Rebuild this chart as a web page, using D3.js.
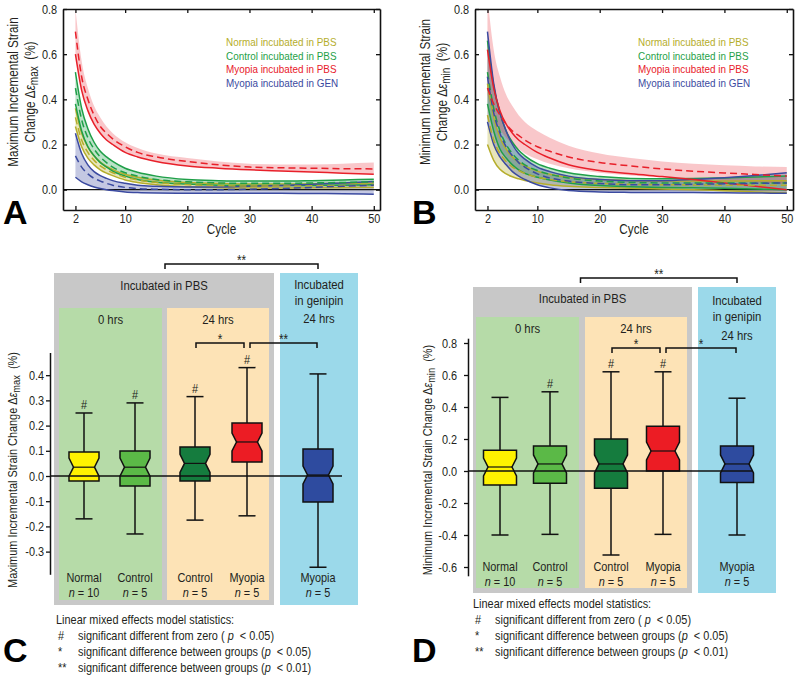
<!DOCTYPE html>
<html>
<head>
<meta charset="utf-8">
<script src="https://cdn.jsdelivr.net/npm/d3@7"></script>
<style>
  body { margin: 0; background: #fff; }
  svg { display: block; }
  text { font-family: "Liberation Sans", Arial, sans-serif; }
</style>
</head>
<body>
<div id="root"></div>
<script>
// ---------- data: strain change vs cycle (panels A and B) ----------
const cycles = [2, 3, 4, 5, 6, 7, 8, 10, 12, 15, 20, 25, 30, 35, 40, 45, 50];
const cycleTicks = [2, 10, 20, 30, 40, 50];
const strainTicks = [0, 0.2, 0.4, 0.6, 0.8];
const seriesNames = ['Normal incubated in PBS', 'Control incubated in PBS', 'Myopia incubated in PBS', 'Myopia incubated in GEN'];

// A: maximum incremental strain change
const aNormalMean = [0.32, 0.22, 0.165, 0.13, 0.105, 0.088, 0.075, 0.055, 0.043, 0.032, 0.022, 0.018, 0.016, 0.016, 0.017, 0.018, 0.02];
const aNormalHi = [0.36, 0.25, 0.19, 0.15, 0.122, 0.103, 0.089, 0.068, 0.055, 0.043, 0.032, 0.027, 0.025, 0.025, 0.026, 0.028, 0.03];
const aNormalLo = [0.28, 0.19, 0.14, 0.11, 0.088, 0.073, 0.062, 0.043, 0.032, 0.022, 0.013, 0.009, 0.007, 0.007, 0.008, 0.009, 0.01];
const aControlMean = [0.45, 0.31, 0.23, 0.18, 0.145, 0.12, 0.10, 0.075, 0.06, 0.045, 0.035, 0.03, 0.028, 0.028, 0.03, 0.032, 0.035];
const aControlHi = [0.52, 0.36, 0.27, 0.21, 0.17, 0.145, 0.125, 0.095, 0.077, 0.06, 0.045, 0.04, 0.038, 0.038, 0.04, 0.043, 0.046];
const aControlLo = [0.38, 0.26, 0.19, 0.15, 0.12, 0.10, 0.082, 0.06, 0.045, 0.033, 0.025, 0.02, 0.018, 0.018, 0.019, 0.02, 0.022];
const aMyopiaMean = [0.70, 0.50, 0.40, 0.33, 0.28, 0.25, 0.225, 0.19, 0.165, 0.145, 0.125, 0.11, 0.10, 0.097, 0.095, 0.093, 0.092];
const aMyopiaHi = [0.80, 0.57, 0.45, 0.37, 0.32, 0.28, 0.25, 0.21, 0.185, 0.16, 0.14, 0.125, 0.115, 0.112, 0.112, 0.115, 0.12];
const aMyopiaLo = [0.60, 0.44, 0.35, 0.29, 0.25, 0.22, 0.20, 0.165, 0.145, 0.125, 0.105, 0.095, 0.088, 0.083, 0.078, 0.073, 0.068];
const aGenMean = [0.15, 0.10, 0.07, 0.05, 0.038, 0.028, 0.02, 0.01, 0.005, 0.002, 0.0, 0.0, 0.002, 0.005, 0.01, 0.015, 0.02];
const aGenHi = [0.25, 0.16, 0.11, 0.08, 0.062, 0.05, 0.04, 0.028, 0.02, 0.015, 0.012, 0.012, 0.015, 0.018, 0.024, 0.03, 0.036];
const aGenLo = [0.055, 0.035, 0.022, 0.012, 0.005, 0.0, -0.004, -0.01, -0.013, -0.015, -0.016, -0.016, -0.016, -0.016, -0.017, -0.018, -0.02];

// B: minimum incremental strain change
const bNormalMean = [0.33, 0.22, 0.16, 0.125, 0.10, 0.085, 0.072, 0.055, 0.045, 0.035, 0.028, 0.024, 0.022, 0.021, 0.02, 0.02, 0.02];
const bNormalHi = [0.47, 0.32, 0.23, 0.18, 0.145, 0.122, 0.105, 0.082, 0.068, 0.055, 0.045, 0.04, 0.038, 0.038, 0.038, 0.039, 0.04];
const bNormalLo = [0.20, 0.13, 0.09, 0.07, 0.057, 0.048, 0.04, 0.03, 0.022, 0.015, 0.01, 0.006, 0.003, 0.0, -0.005, -0.01, -0.015];
const bControlMean = [0.52, 0.36, 0.26, 0.20, 0.16, 0.13, 0.11, 0.085, 0.068, 0.052, 0.038, 0.032, 0.03, 0.03, 0.03, 0.03, 0.03];
const bControlHi = [0.66, 0.46, 0.34, 0.26, 0.21, 0.175, 0.15, 0.115, 0.095, 0.075, 0.058, 0.05, 0.048, 0.049, 0.052, 0.056, 0.06];
const bControlLo = [0.38, 0.26, 0.18, 0.14, 0.11, 0.088, 0.072, 0.055, 0.043, 0.03, 0.018, 0.013, 0.01, 0.008, 0.006, 0.003, 0.0];
const bMyopiaMean = [0.45, 0.38, 0.33, 0.29, 0.26, 0.24, 0.22, 0.19, 0.17, 0.145, 0.12, 0.105, 0.092, 0.082, 0.074, 0.067, 0.06];
const bMyopiaHi = [0.85, 0.62, 0.50, 0.42, 0.37, 0.33, 0.30, 0.26, 0.23, 0.195, 0.16, 0.14, 0.125, 0.115, 0.108, 0.103, 0.10];
const bMyopiaLo = [0.42, 0.33, 0.27, 0.23, 0.20, 0.18, 0.16, 0.135, 0.115, 0.095, 0.075, 0.063, 0.055, 0.047, 0.04, 0.033, 0.025];
const bMyopiaSolid = [0.62, 0.45, 0.35, 0.29, 0.25, 0.22, 0.20, 0.165, 0.14, 0.11, 0.085, 0.07, 0.058, 0.045, 0.03, 0.015, 0.0];
const bGenMean = [0.50, 0.34, 0.25, 0.19, 0.15, 0.12, 0.10, 0.07, 0.052, 0.038, 0.027, 0.022, 0.022, 0.024, 0.026, 0.028, 0.03];
const bGenHi = [0.70, 0.47, 0.34, 0.26, 0.20, 0.16, 0.135, 0.10, 0.08, 0.06, 0.045, 0.04, 0.04, 0.045, 0.053, 0.063, 0.075];
const bGenLo = [0.30, 0.20, 0.145, 0.11, 0.08, 0.06, 0.045, 0.022, 0.008, -0.004, -0.01, -0.012, -0.013, -0.013, -0.014, -0.015, -0.016];

// ---------- data: box plots (panels C and D) ----------
const boxGroups = ['Normal', 'Control', 'Control', 'Myopia', 'Myopia'];
const boxN = [10, 5, 5, 5, 5];
const cTicks = [-0.3, -0.2, -0.1, 0, 0.1, 0.2, 0.3, 0.4];
const cWhiskerHi = [0.25, 0.29, 0.315, 0.43, 0.405];
const cQ3 = [0.095, 0.099, 0.115, 0.21, 0.107];
const cMedian = [0.035, 0.035, 0.05, 0.135, 0.004];
const cQ1 = [-0.02, -0.04, -0.02, 0.056, -0.103];
const cWhiskerLo = [-0.17, -0.23, -0.175, -0.158, -0.362];
const cHash = [true, true, true, true, false];
const dTicks = [-0.6, -0.4, -0.2, 0, 0.2, 0.4, 0.6, 0.8];
const dWhiskerHi = [0.46, 0.495, 0.62, 0.62, 0.455];
const dQ3 = [0.13, 0.156, 0.20, 0.28, 0.156];
const dMedian = [0.025, 0.044, 0.044, 0.125, 0.044];
const dQ1 = [-0.088, -0.077, -0.108, 0.0, -0.072];
const dWhiskerLo = [-0.40, -0.396, -0.525, -0.396, -0.40];
const dHash = [false, true, true, true, false];
const cPairs = [[2, 3, '*'], [3, 4, '**']];
const dPairs = [[2, 3, '*'], [3, 4, '*']];
const legendLines = [
  ['#', 'significant different from zero ( ', ' < 0.05)'],
  ['*', 'significant difference between groups (', ' < 0.05)'],
  ['**', 'significant difference between groups (', ' < 0.01)']
];

// ---------- styles ----------
const lineColors = ['#b5ad2b', '#1f9f48', '#e8202a', '#3b4aa0'];
const bandOpacity = [0.32, 0.3, 0.25, 0.3];
const boxColors = ['#fff200', '#5bb947', '#157c3e', '#ec1c24', '#2e4b9f'];
const SX = 0.84;

const svg = d3.select('#root').append('svg')
  .attr('width', 798)
  .attr('height', 680);

function txt(parent, x, y, size, anchor, opts = {}) {
  const t = parent.append('text')
    .attr('transform', `translate(${x},${y})${opts.rotate ? ' rotate(-90)' : ''} scale(${opts.sx || SX},1)`)
    .attr('font-size', size)
    .attr('text-anchor', anchor)
    .attr('fill', opts.fill || '#231f20');
  if (opts.weight) t.attr('font-weight', opts.weight);
  return t;
}

function subTitle(t, pre, sub, post) {
  t.append('tspan').text(pre);
  t.append('tspan').attr('font-style', 'italic').text('ε');
  t.append('tspan').attr('font-size', '0.85em').attr('dy', 3).text(sub);
  t.append('tspan').attr('dy', -3).text(post);
}

// ---------- line panels ----------
function linePanel(p) {
  const x = d3.scaleLinear().domain([0, 51]).range([p.left, p.right]);
  const y = d3.scaleLinear().domain([-0.09, 0.8]).range([210, 9]);
  const g = svg.append('g');

  g.append('clipPath').attr('id', p.id)
    .append('rect')
    .attr('x', p.left).attr('y', 9)
    .attr('width', p.right - p.left).attr('height', 201);
  const plot = g.append('g').attr('clip-path', `url(#${p.id})`);

  const line = d3.line()
    .x((d, i) => x(cycles[i]))
    .y(d => y(d))
    .curve(d3.curveMonotoneX);
  const area = d3.area()
    .x((d, i) => x(cycles[i]))
    .y0(d => y(d[0]))
    .y1(d => y(d[1]))
    .curve(d3.curveMonotoneX);

  // draw order: normal, control, genipin, myopia PBS
  const order = [0, 1, 3, 2];
  order.forEach(k => {
    const s = p.series[k];
    plot.append('path')
      .datum(s.lo.map((v, i) => [v, s.hi[i]]))
      .attr('d', area)
      .attr('fill', lineColors[k])
      .attr('fill-opacity', bandOpacity[k]);
  });

  plot.append('line')
    .attr('x1', p.left).attr('x2', p.right)
    .attr('y1', y(0)).attr('y2', y(0))
    .attr('stroke', '#111').attr('stroke-width', 1.3);

  order.forEach(k => {
    const s = p.series[k];
    s.solid.forEach(arr => {
      plot.append('path').datum(arr)
        .attr('d', line)
        .attr('fill', 'none')
        .attr('stroke', lineColors[k])
        .attr('stroke-width', 1.5);
    });
  });
  order.forEach(k => {
    plot.append('path').datum(p.series[k].mean)
      .attr('d', line)
      .attr('fill', 'none')
      .attr('stroke', lineColors[k])
      .attr('stroke-width', 1.5)
      .attr('stroke-dasharray', '7,4');
  });

  // frame with inward ticks on all sides
  const fmt = d => d.toFixed(1);
  const axes = [
    g.append('g').attr('transform', 'translate(0,210)')
      .call(d3.axisBottom(x).tickValues(cycleTicks).tickSize(-4).tickSizeOuter(0).tickPadding(4)),
    g.append('g').attr('transform', 'translate(0,9)')
      .call(d3.axisTop(x).tickValues(cycleTicks).tickSize(-4).tickSizeOuter(0).tickFormat('')),
    g.append('g').attr('transform', `translate(${p.left},0)`)
      .call(d3.axisLeft(y).tickValues(strainTicks).tickSize(-4).tickSizeOuter(0).tickPadding(7).tickFormat(fmt)),
    g.append('g').attr('transform', `translate(${p.right},0)`)
      .call(d3.axisRight(y).tickValues(strainTicks).tickSize(-4).tickSizeOuter(0).tickFormat(''))
  ];
  axes.forEach(a => {
    a.attr('font-size', 13).attr('font-family', null);
    a.select('.domain').attr('stroke', '#111').attr('stroke-width', 1.6);
    a.selectAll('.tick line').attr('stroke', '#111').attr('stroke-width', 1.3);
    a.selectAll('text').attr('fill', '#231f20').attr('transform', `scale(${SX},1)`);
  });

  txt(g, (p.left + p.right) / 2, 234, 14, 'middle').text('Cycle');
  txt(g, p.titleX, 92, 14, 'middle', { rotate: true }).text(p.title);
  subTitle(txt(g, p.titleX + 17, 92, 14, 'middle', { rotate: true }), 'Change Δ', p.sub, '\u00a0\u00a0(%)');

  seriesNames.forEach((name, k) => {
    txt(g, p.legendX, 46 + k * 13.7, 11.8, 'start', { fill: lineColors[k] }).text(name);
  });

  txt(g, p.letterX, 224, 34, 'start', { sx: 1, weight: 'bold', fill: '#000' }).text(p.letter);
}

linePanel({
  id: 'clipA', left: 63, right: 380, titleX: 18, legendX: 226, letterX: 3, letter: 'A',
  title: 'Maximum Incremental Strain', sub: 'max',
  series: [
    { mean: aNormalMean, lo: aNormalLo, hi: aNormalHi, solid: [aNormalLo, aNormalHi] },
    { mean: aControlMean, lo: aControlLo, hi: aControlHi, solid: [aControlLo, aControlHi] },
    { mean: aMyopiaMean, lo: aMyopiaLo, hi: aMyopiaHi, solid: [aMyopiaLo] },
    { mean: aGenMean, lo: aGenLo, hi: aGenHi, solid: [aGenLo, aGenHi] }
  ]
});

linePanel({
  id: 'clipB', left: 475, right: 793, titleX: 430, legendX: 638, letterX: 412, letter: 'B',
  title: 'Minimum Incremental Strain', sub: 'min',
  series: [
    { mean: bNormalMean, lo: bNormalLo, hi: bNormalHi, solid: [bNormalLo, bNormalHi] },
    { mean: bControlMean, lo: bControlLo, hi: bControlHi, solid: [bControlLo, bControlHi] },
    { mean: bMyopiaMean, lo: bMyopiaLo, hi: bMyopiaHi, solid: [bMyopiaSolid] },
    { mean: bGenMean, lo: bGenLo, hi: bGenHi, solid: [bGenLo, bGenHi] }
  ]
});

// ---------- box panels ----------
function boxPanel(p) {
  const g = svg.append('g');
  const y = d3.scaleLinear().domain(p.domain).range(p.range);
  const x = d3.scaleOrdinal().domain(d3.range(boxGroups.length)).range(p.centers);

  // group backgrounds
  const bg = p.bg;
  g.append('rect').attr('x', bg.gray[0]).attr('y', bg.gray[1]).attr('width', bg.gray[2]).attr('height', bg.gray[3]).attr('fill', '#c8c8c8');
  g.append('rect').attr('x', bg.blue[0]).attr('y', bg.blue[1]).attr('width', bg.blue[2]).attr('height', bg.blue[3]).attr('fill', '#9bd9ea');
  g.append('rect').attr('x', bg.green[0]).attr('y', bg.green[1]).attr('width', bg.green[2]).attr('height', bg.green[3]).attr('fill', '#b6dba8');
  g.append('rect').attr('x', bg.orange[0]).attr('y', bg.orange[1]).attr('width', bg.orange[2]).attr('height', bg.orange[3]).attr('fill', '#fde3b6');

  const h = p.head;
  txt(g, bg.gray[0] + bg.gray[2] * 0.5, h.pbs, 13.5, 'middle').text('Incubated in PBS');
  txt(g, bg.blue[0] + bg.blue[2] / 2, h.gen[0], 13.5, 'middle').text('Incubated');
  txt(g, bg.blue[0] + bg.blue[2] / 2, h.gen[1], 13.5, 'middle').text('in genipin');
  txt(g, bg.blue[0] + bg.blue[2] / 2, h.gen[2], 13.5, 'middle').text('24 hrs');
  txt(g, bg.green[0] + bg.green[2] / 2, h.hrs, 13.5, 'middle').text('0 hrs');
  txt(g, bg.orange[0] + bg.orange[2] / 2, h.hrs, 13.5, 'middle').text('24 hrs');

  // y axis
  const ax = g.append('g').attr('transform', `translate(${p.axisX},0)`)
    .call(d3.axisLeft(y).tickValues(p.ticks).tickSize(4).tickSizeOuter(0).tickPadding(p.pad).tickFormat(d => d.toFixed(1)));
  ax.attr('font-size', 13).attr('font-family', null);
  ax.select('.domain').attr('stroke', '#111').attr('stroke-width', 1.5);
  ax.selectAll('.tick line').attr('stroke', '#111').attr('stroke-width', 1.3);
  ax.selectAll('text').attr('fill', '#231f20').attr('transform', `scale(${SX},1)`);

  subTitle(txt(g, p.titleX, p.titleY, 13, 'middle', { rotate: true }), p.title, p.sub, '\u00a0\u00a0(%)');

  // boxes
  const bw = p.boxW, cap = 17, ind = 4.5;
  const st = p.stats;
  boxGroups.forEach((name, i) => {
    const cx = x(i);
    g.append('line').attr('x1', cx).attr('x2', cx)
      .attr('y1', y(st.hi[i])).attr('y2', y(st.lo[i]))
      .attr('stroke', '#111').attr('stroke-width', 1.5);
    [st.hi[i], st.lo[i]].forEach(v => {
      g.append('line').attr('x1', cx - cap / 2).attr('x2', cx + cap / 2)
        .attr('y1', y(v)).attr('y2', y(v))
        .attr('stroke', '#111').attr('stroke-width', 1.5);
    });
    const yq3 = y(st.q3[i]), yq1 = y(st.q1[i]), ym = y(st.med[i]);
    const nh = Math.max(2, Math.min(9, ym - yq3 - 1, yq1 - ym - 1));
    const x0 = cx - bw / 2, x1 = cx + bw / 2;
    const pts = [[x0, yq3], [x1, yq3], [x1, ym - nh], [x1 - ind, ym], [x1, ym + nh], [x1, yq1],
      [x0, yq1], [x0, ym + nh], [x0 + ind, ym], [x0, ym - nh]];
    g.append('path')
      .attr('d', d3.line()(pts) + 'Z')
      .attr('fill', boxColors[i])
      .attr('stroke', '#111').attr('stroke-width', 1.5);
    g.append('line').attr('x1', x0 + ind).attr('x2', x1 - ind)
      .attr('y1', ym).attr('y2', ym)
      .attr('stroke', '#111').attr('stroke-width', 1.2);
    if (st.hash[i]) txt(g, cx, y(st.hi[i]) - 4, 13, 'middle').text('#');

    txt(g, cx, p.nameY, 13, 'middle').text(name);
    const nt = txt(g, cx, p.nameY + 15, 13, 'middle');
    nt.append('tspan').attr('font-style', 'italic').text('n');
    nt.append('tspan').text('\u00a0= ' + boxN[i]);
  });

  g.append('line')
    .attr('x1', p.axisX).attr('x2', p.zeroEnd)
    .attr('y1', y(0)).attr('y2', y(0))
    .attr('stroke', '#111').attr('stroke-width', 1.5);

  // significance brackets
  const bracket = (xa, xb, yy, label) => {
    g.append('path')
      .attr('d', `M${xa},${yy + 5}V${yy}H${xb}V${yy + 5}`)
      .attr('fill', 'none').attr('stroke', '#111').attr('stroke-width', 1.5);
    txt(g, (xa + xb) / 2, yy + 1, 14, 'middle').text(label);
  };
  p.pairs.forEach(([a, b, label], j) => {
    bracket(x(a) + (j ? 3 : 1), x(b) - (j ? 1 : 3), p.pairY, label);
  });
  bracket((x(1) + x(2)) / 2, x(4), p.topY, '**');

  // statistics legend
  txt(g, p.legX, p.legY, 13, 'start').text('Linear mixed effects model statistics:');
  legendLines.forEach(([sym, pre, post], k) => {
    const yy = p.legY + 16 + k * 16;
    txt(g, p.legX + 2, yy, 13, 'start').text(sym);
    const t = txt(g, p.legX + 22, yy, 13, 'start');
    t.append('tspan').text(pre);
    t.append('tspan').attr('font-style', 'italic').text('p');
    t.append('tspan').text('\u00a0' + post);
  });

  txt(g, p.letterX, 662, 34, 'start', { sx: 1, weight: 'bold', fill: '#000' }).text(p.letter);
}

boxPanel({
  letter: 'C', letterX: 3,
  domain: [-0.39, 0.49], range: [574.3, 352.5], ticks: cTicks, axisX: 50, pad: 3,
  centers: [84, 135, 195, 247, 318], boxW: 30, zeroEnd: 342,
  bg: { gray: [54, 273, 220, 332], blue: [280, 273, 78, 332], green: [59, 308, 103, 292], orange: [167, 308, 102, 292] },
  head: { pbs: 290, gen: [289, 305, 323], hrs: 324 },
  titleX: 17, titleY: 470, title: 'Maximum Incremental Strain Change Δ', sub: 'max',
  stats: { hi: cWhiskerHi, q3: cQ3, med: cMedian, q1: cQ1, lo: cWhiskerLo, hash: cHash },
  nameY: 582, pairs: cPairs, pairY: 343, topY: 264,
  legX: 56, legY: 624
});

boxPanel({
  letter: 'D', letterX: 412,
  domain: [-0.655, 0.83], range: [575.8, 338.2], ticks: dTicks, axisX: 468, pad: 9,
  centers: [500, 550, 611, 663, 737], boxW: 33, zeroEnd: 753,
  bg: { gray: [473, 287, 219, 306], blue: [698, 287, 78, 306], green: [476, 317, 103, 271], orange: [585, 317, 102, 271] },
  head: { pbs: 303, gen: [305, 321, 340], hrs: 333 },
  titleX: 432, titleY: 460, title: 'Minimum Incremental Strain Change Δ', sub: 'min',
  stats: { hi: dWhiskerHi, q3: dQ3, med: dMedian, q1: dQ1, lo: dWhiskerLo, hash: dHash },
  nameY: 571, pairs: dPairs, pairY: 348, topY: 278,
  legX: 473, legY: 608
});
</script>
</body>
</html>
